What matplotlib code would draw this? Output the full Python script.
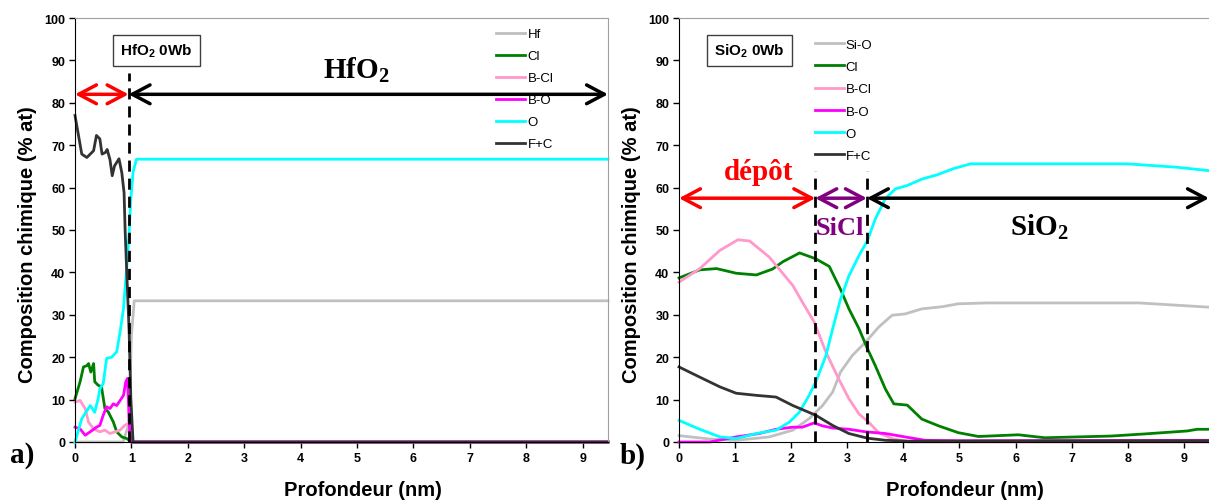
import matplotlib
matplotlib.use("Agg")
from matplotlib import pyplot as plt
import numpy as np

plt.rcParams['font.family'] = ['Liberation Sans', 'DejaVu Sans']

# panel a) HfO2, profile values
a_labels = ["Hf", "Cl", "B-Cl", "B-O", "O", "F+C"]

hf_x = [0, 0.85, 0.9, 0.95, 0.98, 1.0, 1.05, 9.45]
hf_y = [0, 0, 2, 4, 15, 25, 33.3, 33.3]

cl_a_x = [0, 0.09, 0.15, 0.21, 0.24, 0.28, 0.33, 0.35, 0.41, 0.47, 0.53, 0.59, 0.68, 0.74, 0.83, 0.92, 1.0, 9.45]
cl_a_y = [10.2, 14.2, 17.7, 18, 18.5, 16.5, 18.5, 14.2, 13.4, 13, 7.9, 7.1, 4.7, 2.4, 1.2, 0.8, 0, 0]

bcl_a_x = [0, 0.09, 0.18, 0.24, 0.33, 0.44, 0.53, 0.62, 0.71, 0.8, 0.88, 0.94, 0.99, 9.45]
bcl_a_y = [9.4, 9.8, 7.9, 4.7, 3.1, 2.4, 2.8, 2.0, 2.4, 2.8, 3.9, 4.3, 0, 0]

bo_a_x = [0, 0.09, 0.18, 0.27, 0.38, 0.44, 0.5, 0.56, 0.62, 0.68, 0.74, 0.8, 0.86, 0.9, 0.93, 0.97, 1.0, 9.45]
bo_a_y = [3.5, 3.1, 1.6, 2.4, 3.5, 3.9, 6.3, 8.3, 7.9, 9.0, 8.6, 9.8, 11, 14.2, 15, 2.4, 0, 0]

o_a_x = [0, 0.12, 0.27, 0.35, 0.41, 0.44, 0.5, 0.56, 0.65, 0.74, 0.8, 0.86, 0.92, 0.96, 0.99, 1.03, 1.09, 9.45]
o_a_y = [0, 5.5, 8.6, 7.0, 10.2, 12.5, 13.8, 19.7, 20, 21.3, 26, 31.5, 41.7, 49.5, 57.4, 63.7, 66.7, 66.7]

fc_a_x = [0, 0.12, 0.21, 0.33, 0.38, 0.44, 0.48, 0.54, 0.57, 0.62, 0.66, 0.7, 0.78, 0.83, 0.87, 0.89, 0.92, 0.96, 0.99, 1.03, 9.45]
fc_a_y = [77, 67.9, 67.1, 68.7, 72.3, 71.5, 67.9, 68.3, 69, 66.6, 62.8, 65.1, 66.8, 63.5, 58.8, 49.4, 39.2, 25.9, 10.2, 0, 0]

# panel b) SiO2
b_labels = ["Si-O", "Cl", "B-Cl", "B-O", "O", "F+C"]

sio_x = [0, 0.55, 1.02, 1.61, 2.03, 2.32, 2.56, 2.74, 2.88, 3.09, 3.33, 3.56, 3.8, 4.03, 4.33, 4.69, 4.98, 5.5, 8.2, 9.45]
sio_y = [1.5, 0.7, 0.4, 1.2, 2.8, 5.5, 8.6, 11.8, 16.5, 20.4, 23.6, 27.1, 29.9, 30.2, 31.4, 31.9, 32.6, 32.8, 32.8, 31.8]

cl_b_x = [0, 0.37, 0.67, 1.02, 1.38, 1.67, 1.85, 2.15, 2.44, 2.68, 2.88, 3.03, 3.21, 3.36, 3.5, 3.68, 3.83, 4.07, 4.33, 4.63, 4.98, 5.34, 6.05, 6.52, 7.7, 8.3, 9.06, 9.24, 9.45]
cl_b_y = [38.7, 40.6, 40.9, 39.8, 39.4, 40.8, 42.5, 44.6, 43.2, 41.4, 36, 31.4, 26.7, 22, 18, 12.5, 9, 8.7, 5.4, 3.8, 2.2, 1.3, 1.7, 1.0, 1.4, 1.9, 2.6, 3.0, 3.0]

bcl_b_x = [0, 0.37, 0.73, 1.05, 1.26, 1.61, 2.03, 2.2, 2.41, 2.62, 2.85, 3.03, 3.21, 3.38, 3.56, 3.8, 4.1, 9.45]
bcl_b_y = [37.7, 40.9, 45.2, 47.7, 47.4, 43.6, 36.9, 33, 28.3, 21.2, 14.8, 10.2, 6.6, 4.7, 2.2, 0.8, 0, 0]

bo_b_x = [0, 0.55, 1.02, 1.43, 1.73, 2.03, 2.2, 2.41, 2.56, 2.74, 3.03, 3.33, 3.68, 4.03, 4.39, 5.0, 9.45]
bo_b_y = [0, 0, 1.2, 2.0, 3.0, 3.5, 3.5, 4.5, 3.8, 3.3, 3.0, 2.4, 2.0, 1.2, 0.4, 0.3, 0.4]

o_b_x = [0, 0.37, 0.73, 1.02, 1.38, 1.73, 1.97, 2.15, 2.32, 2.44, 2.62, 2.74, 2.88, 3.03, 3.21, 3.36, 3.5, 3.68, 3.86, 4.07, 4.33, 4.6, 4.9, 5.2, 6.0, 8.0, 8.88, 9.45]
o_b_y = [5.1, 3.0, 1.2, 0.8, 2.0, 2.8, 4.7, 7.1, 11, 14.2, 20.4, 26.7, 33.7, 39.2, 44, 47.5, 52.6, 57.4, 59.7, 60.5, 62, 63, 64.5, 65.6, 65.6, 65.6, 64.8, 64]

fc_b_x = [0, 0.37, 0.73, 1.02, 1.38, 1.73, 2.03, 2.44, 2.74, 3.03, 3.36, 3.68, 4.1, 9.45]
fc_b_y = [17.7, 15.3, 13, 11.5, 11, 10.6, 8.6, 6.3, 3.9, 2.0, 0.9, 0.4, 0.2, 0.3]

colors = ["#c0c0c0", "#008000", "#ff99cc", "#ff00ff", "#00ffff", "#333333"]

fig = plt.figure(figsize=(12.09, 5.02), dpi=100)
ax1 = fig.add_axes([75/1209, 1-443/502, 533/1209, 424/502])
ax2 = fig.add_axes([679/1209, 1-443/502, 530/1209, 424/502])

series_a = [(hf_x, hf_y), (cl_a_x, cl_a_y), (bcl_a_x, bcl_a_y), (bo_a_x, bo_a_y), (o_a_x, o_a_y), (fc_a_x, fc_a_y)]
series_b = [(sio_x, sio_y), (cl_b_x, cl_b_y), (bcl_b_x, bcl_b_y), (bo_b_x, bo_b_y), (o_b_x, o_b_y), (fc_b_x, fc_b_y)]

for ax, series, labels in [(ax1, series_a, a_labels), (ax2, series_b, b_labels)]:
    for (x, y), lab, c in zip(series, labels, colors):
        ax.plot(x, y, color=c, lw=2.0, label=lab, clip_on=False)
    ax.set_xlim(0, 9.45)
    ax.set_ylim(0, 100)
    ax.set_xticks(range(0, 10))
    ax.set_yticks(range(0, 101, 10))
    ax.tick_params(direction='out', length=4, width=1, labelsize=9, pad=3)
    for t in ax.get_xticklabels() + ax.get_yticklabels():
        t.set_fontweight('bold')
    ax.spines['top'].set_color('#a0a0a0')
    ax.spines['right'].set_color('#a0a0a0')
    ax.set_xlabel("Profondeur (nm)", fontsize=14.5, fontweight='bold')
    ax.set_ylabel("Composition chimique (% at)", fontsize=14.5, fontweight='bold')
    ax.xaxis.set_label_coords(0.54, -0.089)
    ax.yaxis.set_label_coords(-0.071, 0.469)

ax2.spines['right'].set_visible(False)

ax1.legend(loc='upper left', bbox_to_anchor=(0.772, 1.0), frameon=False, fontsize=9.5,
           handlelength=2.2, handletextpad=0.15, labelspacing=0.74, borderpad=0.25)
ax2.legend(loc='upper left', bbox_to_anchor=(0.237, 0.975), frameon=False, fontsize=9.5,
           handlelength=2.2, handletextpad=0.15, labelspacing=0.76, borderpad=0.25)

box = dict(boxstyle='square,pad=0.45', fc='white', ec='#404040', lw=1)
ax1.text(1.445, 92.3, "HfO$_\\mathregular{2}$ 0Wb", fontsize=11, fontweight='bold', ha='center', va='center', bbox=box)
ax2.text(1.26, 92.3, "SiO$_\\mathregular{2}$ 0Wb", fontsize=11, fontweight='bold', ha='center', va='center', bbox=box)

# arrows and zones
def arrow(ax, x0, x1, y, c):
    ax.annotate('', xy=(x1, y), xytext=(x0, y),
                arrowprops=dict(arrowstyle='<->,head_length=0.85,head_width=0.45', color=c,
                                lw=2.5, shrinkA=0, shrinkB=0, mutation_scale=15))

arrow(ax1, 0, 0.95, 82, 'red')
arrow(ax1, 0.95, 9.45, 82, 'black')
ax1.plot([0.95, 0.95], [0, 87], color='black', lw=2, ls=(0, (4, 2.5)))
ax1.text(4.98, 88, "HfO$_\\mathregular{2}$", family='Liberation Serif', fontsize=21, fontweight='bold', ha='center', va='center')

arrow(ax2, 0, 2.43, 57.5, 'red')
arrow(ax2, 2.43, 3.35, 57.5, 'purple')
arrow(ax2, 3.35, 9.45, 57.5, 'black')
for xv in [2.43, 3.35]:
    ax2.plot([xv, xv], [0, 64], color='black', lw=2, ls=(0, (4, 2.5)))
ax2.text(1.42, 63.7, "dépôt", family='Liberation Serif', fontsize=21, fontweight='bold', color='red', ha='center', va='center')
ax2.text(2.87, 50.5, "SiCl", family='Liberation Serif', fontsize=19, fontweight='bold', color='purple', ha='center', va='center')
ax2.text(6.43, 51.0, "SiO$_\\mathregular{2}$", family='Liberation Serif', fontsize=21, fontweight='bold', ha='center', va='center')

fig.text(10/1209, 1-456/502, "a)", family='Liberation Serif', fontsize=21, fontweight='bold', va='center')
fig.text(620/1209, 1-456/502, "b)", family='Liberation Serif', fontsize=21, fontweight='bold', va='center')

fig.savefig("out.png", dpi=100)
